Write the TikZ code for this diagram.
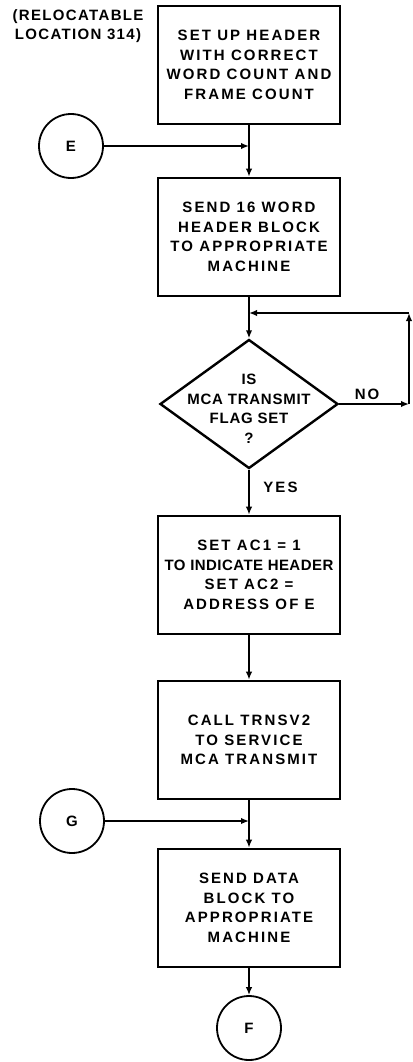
\documentclass[tikz,border=0pt]{standalone}
\usepackage{fontspec}
\setmainfont[LetterSpace=14]{Liberation Sans}
\usetikzlibrary{shapes.geometric,arrows.meta}
\newcommand{\flowfont}{\fontsize{15pt}{19.5pt}\selectfont\bfseries}
\tikzset{
  stepbox/.style={draw, line width=2.6pt, minimum width=182pt, minimum height=118pt, align=center, inner sep=0pt},
  decision/.style={draw, diamond, line width=2.4pt, minimum width=178pt, minimum height=129pt, inner sep=0pt},
  connector/.style={draw, circle, line width=1.8pt, minimum size=64pt},
  line/.style={line width=2pt},
  flow/.style={line width=2pt, -{Latex[length=8pt,width=6.5pt]}},
}
\begin{document}
\begin{tikzpicture}[x=1pt,y=-1pt,every node/.style={font=\flowfont}]
  \useasboundingbox (0,0) rectangle (412,1062);
  % steps
  \node[stepbox] (hdr) at (249,65) {SET UP HEADER\\WITH CORRECT\\WORD COUNT AND\\FRAME COUNT};
  \node[stepbox] (send) at (249,237) {SEND 16 WORD\\HEADER BLOCK\\TO APPROPRIATE\\MACHINE};
  \node[decision] (flag) at (249,404) {};
  \node[align=center, font=\flowfont\addfontfeature{LetterSpace=5}] (flagtxt) at ([yshift=-5pt]flag.center) {IS\\MCA TRANSMIT\\FLAG SET\\?};
  \node[stepbox] (setac) at (249,575) {SET AC1 = 1\\{\addfontfeature{LetterSpace=3}TO INDICATE HEADER}\\SET AC2 =\\ADDRESS OF E};
  \node[stepbox] (call) at (249,740) {CALL TRNSV2\\TO SERVICE\\MCA TRANSMIT};
  \node[stepbox] (data) at (249,908) {SEND DATA\\BLOCK TO\\APPROPRIATE\\MACHINE};
  % connectors
  \node[connector] (E) at (71,146) {E};
  \node[connector] (G) at (72,821) {G};
  \node[connector] (F) at (249,1028) {F};
  \node[align=center, font=\flowfont\addfontfeature{LetterSpace=9}] (reloc) at (78,26) {(RELOCATABLE\\LOCATION 314)};
  % junctions
  \coordinate (jE) at (hdr.south |- E.east);
  \coordinate (jG) at (call.south |- G.east);
  \coordinate (jL) at (249,313);
  \coordinate (loopR) at (409,313);
  \coordinate (loopB) at (loopR |- flag.east);
  % flow lines
  \draw[line] (hdr) -- (jE);
  \draw[flow] (E) -- (jE);
  \draw[flow] (jE) -- (send);
  \draw[line] (send) -- (jL);
  \draw[flow] (jL) -- (flag);
  \draw[flow] (flag) -- node[above, pos=0.4] {NO} (loopB);
  \draw[flow] (loopB) -- (loopR);
  \draw[flow] (loopR) -- (jL);
  \draw[flow] (flag) -- node[right, xshift=10pt, pos=0.4] {YES} (setac);
  \draw[flow] (setac) -- (call);
  \draw[line] (call) -- (jG);
  \draw[flow] (G) -- (jG);
  \draw[flow] (jG) -- (data);
  \draw[flow] (data) -- (F);
\end{tikzpicture}
\end{document}
